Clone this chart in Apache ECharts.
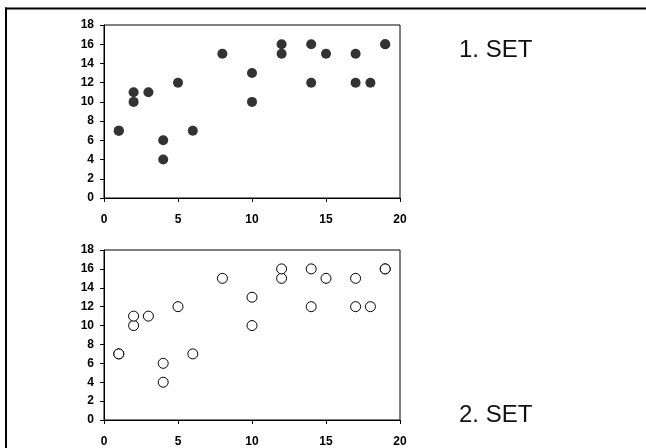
<!DOCTYPE html>
<html>
<head>
<meta charset="utf-8">
<script src="https://cdn.jsdelivr.net/npm/echarts@6/dist/echarts.min.js"></script>
<style>
html,body{margin:0;padding:0;background:#fff;}
#c{width:646px;height:448px;}
</style>
</head>
<body>
<div id="c"></div>
<script>
// Data
var set1X = [1, 1, 2, 2, 3, 4, 4, 5, 6, 8, 10, 10, 12, 12, 14, 14, 15, 17, 17, 18, 19, 19];
var set1Y = [7, 7, 10, 11, 11, 4, 6, 12, 7, 15, 10, 13, 15, 16, 12, 16, 15, 12, 15, 12, 16, 16];
var set2X = [1, 1, 2, 2, 3, 4, 4, 5, 6, 8, 10, 10, 12, 12, 14, 14, 15, 17, 17, 18, 19, 19];
var set2Y = [7, 7, 10, 11, 11, 4, 6, 12, 7, 15, 10, 13, 15, 16, 12, 16, 15, 12, 15, 12, 16, 16];
var setLabels = ['1. SET', '2. SET'];

function pairs(xs, ys) { return xs.map(function (x, i) { return [x, ys[i]]; }); }

var font = 'Liberation Sans, Arial, sans-serif';
function xAxis(idx) {
  return {
    gridIndex: idx, type: 'value', min: 0, max: 20, interval: 5,
    axisLine: { show: true, onZero: false, lineStyle: { color: '#000', width: 1 } },
    axisTick: { show: true, length: 4, lineStyle: { color: '#000' } },
    axisLabel: { color: '#000', fontFamily: font, fontWeight: 'bold', fontSize: 12, margin: 16 },
    splitLine: { show: false }
  };
}
function yAxis(idx) {
  return {
    gridIndex: idx, type: 'value', min: 0, max: 18, interval: 2,
    axisLine: { show: true, onZero: false, lineStyle: { color: '#000', width: 1 } },
    axisTick: { show: true, length: 4, lineStyle: { color: '#000' } },
    axisLabel: { color: '#000', fontFamily: font, fontWeight: 'bold', fontSize: 12, margin: 10 },
    splitLine: { show: false }
  };
}

var chart = echarts.init(document.getElementById('c'), null, { renderer: 'canvas' });
chart.setOption({
  animation: false,
  backgroundColor: '#fff',
  title: [
    { text: setLabels[0], left: 454, top: 33, textStyle: { fontFamily: font, fontSize: 24, fontWeight: 'normal', color: '#111' } },
    { text: setLabels[1], left: 454, top: 398, textStyle: { fontFamily: font, fontSize: 24, fontWeight: 'normal', color: '#111' } }
  ],
  grid: [
    { left: 104, top: 25, width: 296, height: 173, show: true, borderColor: '#000', borderWidth: 1, backgroundColor: 'transparent' },
    { left: 104, top: 250, width: 296, height: 172, show: true, borderColor: '#000', borderWidth: 1, backgroundColor: 'transparent' }
  ],
  xAxis: [xAxis(0), xAxis(1)],
  yAxis: [yAxis(0), yAxis(1)],
  graphic: [
    { type: 'line', shape: { x1: 5, y1: 8.5, x2: 646, y2: 8.5 }, style: { stroke: '#000', lineWidth: 2 }, silent: true },
    { type: 'line', shape: { x1: 6, y1: 7.5, x2: 6, y2: 448 }, style: { stroke: '#000', lineWidth: 2 }, silent: true }
  ],
  series: [
    {
      type: 'scatter', xAxisIndex: 0, yAxisIndex: 0, symbol: 'circle', symbolSize: 10,
      itemStyle: { color: '#333333', opacity: 1 },
      data: pairs(set1X, set1Y)
    },
    {
      type: 'scatter', xAxisIndex: 1, yAxisIndex: 1, symbol: 'circle', symbolSize: 10,
      itemStyle: { color: '#fff', borderColor: '#000', borderWidth: 1, opacity: 1 },
      data: pairs(set2X, set2Y)
    }
  ]
});
</script>
</body>
</html>
